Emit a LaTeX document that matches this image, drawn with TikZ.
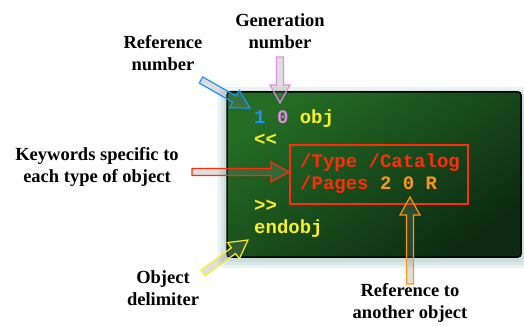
\documentclass[tikz,border=0pt]{standalone}
\usepackage{fontspec}
\setmainfont{Liberation Serif}
\newfontfamily\codefont{Liberation Mono}
\usetikzlibrary{calc}

\definecolor{boardtop}{RGB}{36,108,36}
\definecolor{boardbot}{RGB}{12,42,18}
\definecolor{refblue}{RGB}{30,144,255}
\definecolor{genpink}{RGB}{222,140,230}
\definecolor{codeyel}{RGB}{250,240,40}
\definecolor{keyred}{RGB}{255,45,10}
\definecolor{reforange}{RGB}{255,150,20}
\definecolor{glow}{RGB}{90,150,150}

% block arrow: colour, tail, tip
\newcommand\fatarrow[3]{%
  \coordinate (hb) at ($(#3)!18pt!(#2)$);
  \draw[#1, line width=1.2pt, line join=miter, fill=gray, fill opacity=0.25]
    ($(#2)!3.5pt!90:(#3)$) -- ($(hb)!3.5pt!90:(#3)$) -- ($(hb)!10pt!90:(#3)$)
    -- (#3) -- ($(hb)!10pt!-90:(#3)$) -- ($(hb)!3.5pt!-90:(#3)$)
    -- ($(#2)!3.5pt!-90:(#3)$) -- cycle;
}

\begin{document}
\begin{tikzpicture}[x=1pt,y=-1pt,
    tag/.style={font=\bfseries\fontsize{18.5}{22.5}\selectfont, align=center, inner sep=0pt},
    code/.style={font=\codefont\bfseries\fontsize{19}{22}\selectfont, anchor=base west, inner sep=0pt}]
  \useasboundingbox (0,0) rectangle (524,326);

  % glow and board
  \foreach \g in {9,6,3}
    \fill[glow, opacity=0.12, rounded corners=6pt] (227-\g,92-\g+4) rectangle (521+\g,257+\g+2);
  \draw[black, line width=1.5pt, rounded corners=3pt, top color=boardtop, bottom color=boardbot,
        shading angle=35] (227,92) rectangle (521,257);

  % code lines
  \node[code] (l1) at (254,123) {\textcolor{refblue}{1} \textcolor{genpink}{0} \textcolor{codeyel}{obj}};
  \node[code, text=codeyel] (l2) at (254,145) {<\kern0pt<};
  \node[code, text=keyred] (l3) at (300,167) {/Type /Catalog};
  \node[code, text=keyred] (l4) at (300,189) {/Pages \textcolor{reforange}{2 0 R}};
  \node[code, text=codeyel] (l5) at (254,211) {>\kern0pt>};
  \node[code, text=codeyel] (l6) at (254,233) {endobj};

  \draw[keyred, line width=2.4pt] (290,145) rectangle (468,204);

  % labels
  \node[tag] (genLabel) at (280,31) {Generation\\number};
  \node[tag] (refLabel) at (163,53) {Reference\\number};
  \node[tag] (keyLabel) at (97,167) {Keywords specific to\\each type of object};
  \node[tag] (delLabel) at (163,288) {Object\\delimiter};
  \node[tag] (anoLabel) at (410,303) {Reference to\\another object};

  % arrows
  \coordinate (refTail) at (201,80);  \coordinate (refTip) at (250,108);
  \coordinate (genTail) at (280,57);  \coordinate (genTip) at (280,103);
  \coordinate (keyTail) at (192,172); \coordinate (keyTip) at (289,172);
  \coordinate (delTail) at (203,273); \coordinate (delTip) at (248,240);
  \coordinate (anoTail) at (410,284); \coordinate (anoTip) at (410,197);
  \fatarrow{refblue}{refTail}{refTip}
  \fatarrow{genpink}{genTail}{genTip}
  \fatarrow{keyred}{keyTail}{keyTip}
  \fatarrow{codeyel}{delTail}{delTip}
  \fatarrow{reforange}{anoTail}{anoTip}
\end{tikzpicture}
\end{document}
